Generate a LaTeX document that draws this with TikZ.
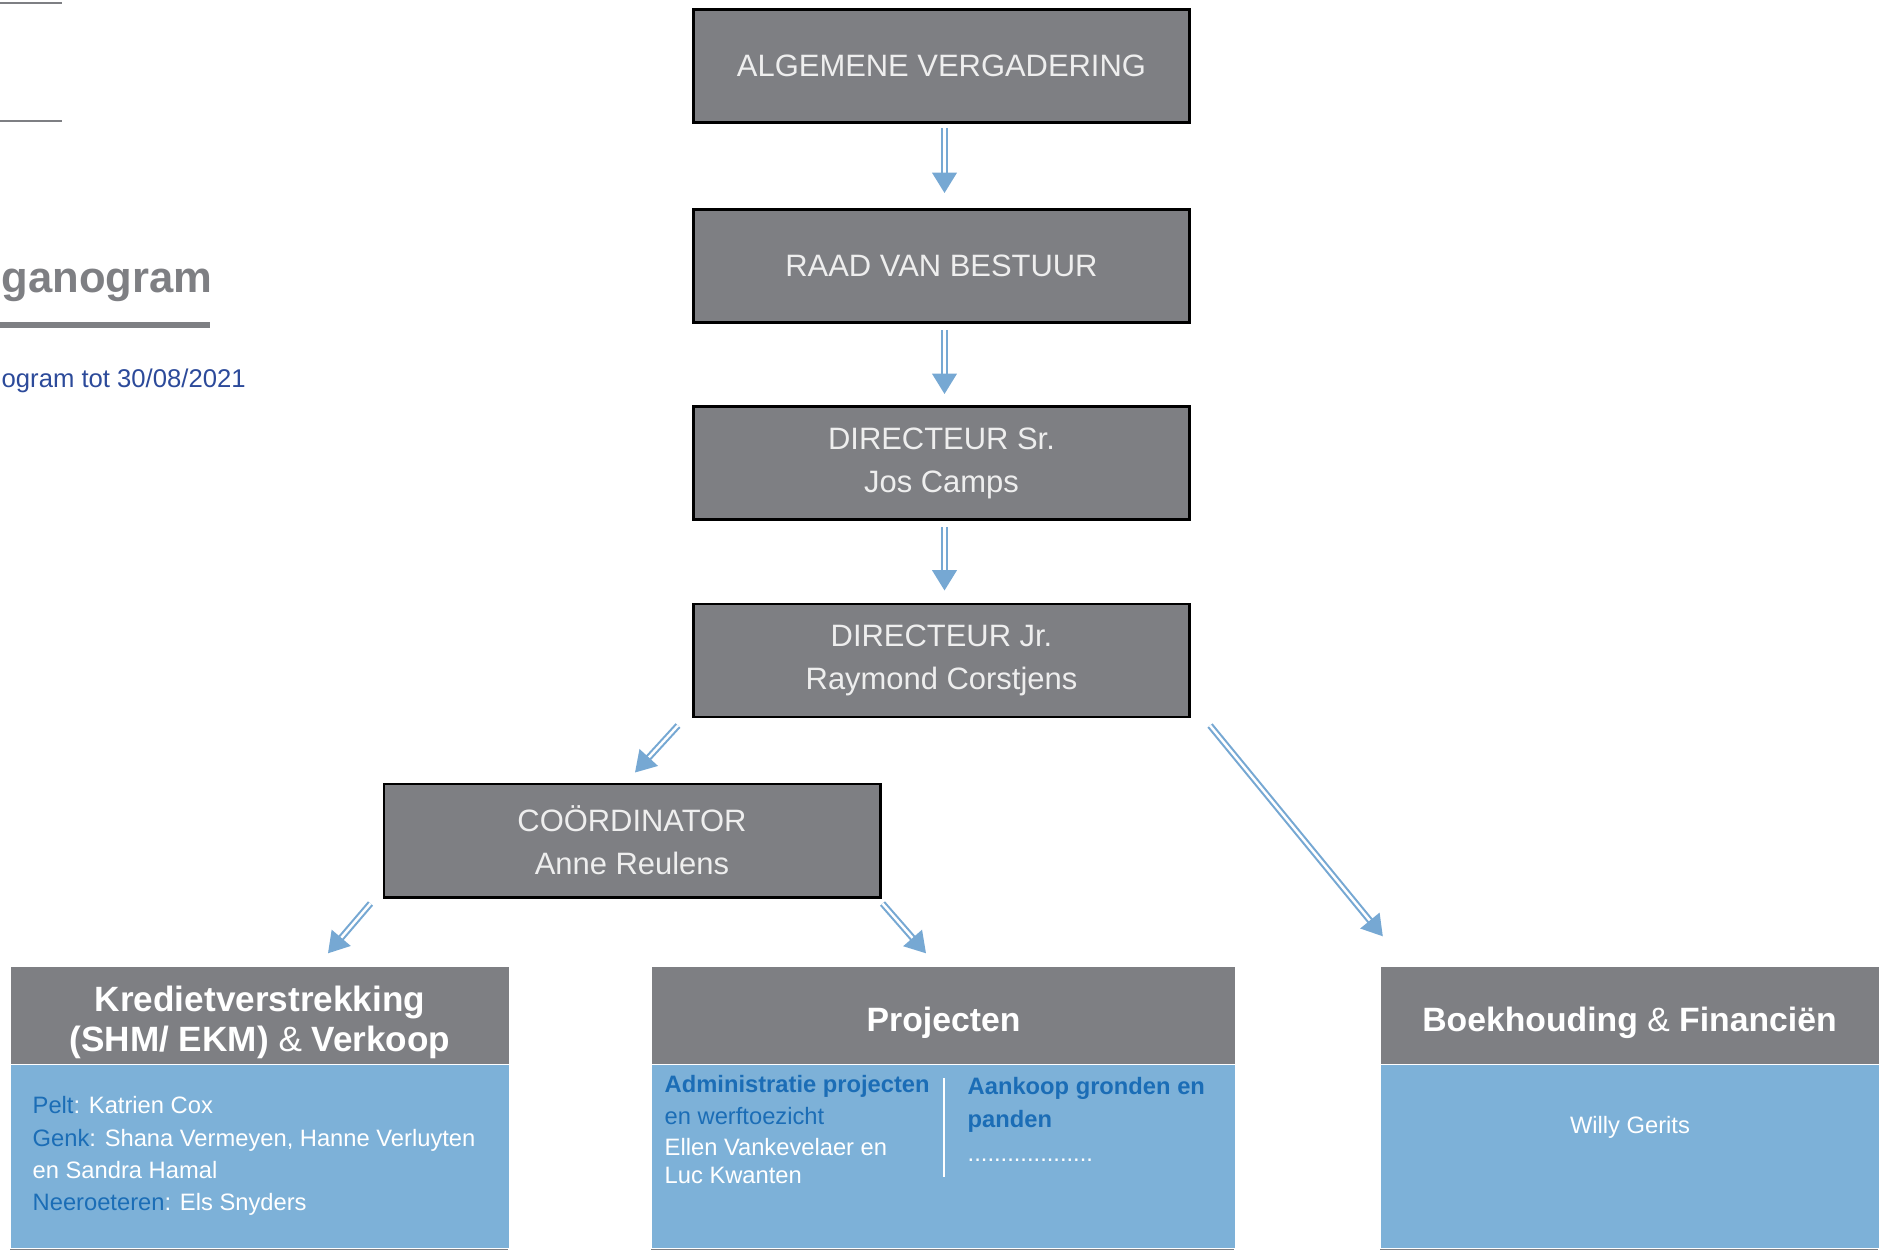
\documentclass[tikz,border=0pt]{standalone}
\usepackage{fontspec}
\setmainfont{Liberation Sans}
\usetikzlibrary{arrows.meta}

\definecolor{boxgray}{HTML}{7E7F83}
\definecolor{boxtext}{HTML}{EEEEEE}
\definecolor{bodyblue}{HTML}{7DB1D8}
\definecolor{labelblue}{HTML}{1B6DB6}
\definecolor{linkblue}{HTML}{76A8D3}
\definecolor{navy}{HTML}{2C4A9A}

\newcommand{\lab}[1]{\textcolor{labelblue}{#1}}

\tikzset{
  boss/.style={rectangle, draw=black, line width=0.85pt, fill=boxgray, text=boxtext,
    minimum width=4.96cm, minimum height=1.13cm, inner sep=0pt, align=center,
    font=\fontsize{8.8}{12.2}\selectfont},
  dept/.style={rectangle, fill=boxgray, minimum width=4.98cm,
    minimum height=0.97cm, inner sep=0pt},
  depttitle/.style={inner sep=0pt, align=center, text=white,
    font=\fontsize{9.6}{11.6}\selectfont\bfseries},
  deptbody/.style={rectangle, fill=bodyblue, minimum width=4.98cm,
    minimum height=1.83cm, inner sep=0pt},
  members/.style={inner sep=0pt, align=left, text=white,
    font=\fontsize{6.75}{9.2}\selectfont},
  link/.style={draw=linkblue, line width=0.6pt, double=white, double distance=0.7pt,
    -{Triangle[length=5.8pt,width=7pt]}},
}

\begin{document}
\begin{tikzpicture}
	\useasboundingbox (0,0) rectangle (18.79,-12.50);
	% page head
	\draw[boxgray, line width=0.7pt] (0,-0.03) -- (0.62,-0.03);
	\draw[boxgray, line width=0.7pt] (0,-1.21) -- (0.62,-1.21);
	\node[anchor=base west, inner sep=0pt, text=boxgray,
		font=\fontsize{12.4}{15}\selectfont\bfseries] (title) at (0.01,-2.92) {ganogram};
	\draw[boxgray, line width=1.7pt] (0,-3.25) -- (2.10,-3.25);
	\node[anchor=base west, inner sep=0pt, text=navy,
		font=\fontsize{7.3}{9}\selectfont] (subtitle) at (0.01,-3.87) {ogram tot 30/08/2021};

	% management
	\node[boss] (av) at (9.415,-0.66) {ALGEMENE VERGADERING};
	\node[boss] (rvb) at (9.415,-2.66) {RAAD VAN BESTUUR};
	\node[boss] (dirsr) at (9.415,-4.63) {DIRECTEUR Sr.\\Jos Camps};
	\node[boss] (dirjr) at (9.415,-6.605) {DIRECTEUR Jr.\\Raymond Corstjens};
	\node[boss] (coord) at (6.32,-8.405) {COÖRDINATOR\\Anne Reulens};

	% departments
	\node[dept] (kred) at (2.60,-10.155) {};
	\node[depttitle, font=\fontsize{10}{11.6}\selectfont\bfseries] (kredtitle) at ([yshift=-0.07cm]kred.center)
		{Kredietverstrekking\\(SHM/ EKM) {\mdseries\&} Verkoop};
	\node[deptbody, anchor=north] (kredbody) at (kred.south) {};
	\node[dept, minimum width=5.83cm] (proj) at (9.435,-10.155) {};
	\node[depttitle] (projtitle) at ([yshift=-0.07cm]proj.center) {Projecten};
	\node[deptbody, minimum width=5.83cm, anchor=north] (projbody) at (proj.south) {};
	\node[dept] (boek) at (16.295,-10.155) {};
	\node[depttitle] (boektitle) at ([yshift=-0.07cm]boek.center) {Boekhouding {\mdseries\&} Financiën};
	\node[deptbody, anchor=north] (boekbody) at (boek.south) {};
	\fill[boxgray] (kredbody.south west) rectangle ++(4.98,-0.03);
	\fill[boxgray] (projbody.south west) rectangle ++(5.83,-0.03);
	\fill[boxgray] (boekbody.south west) rectangle ++(4.98,-0.03);

	\node[members, anchor=north west] (kredlist) at (0.32,-10.96)
		{\lab{Pelt}: Katrien Cox\\\lab{Genk}: Shana Vermeyen, Hanne Verluyten\\en Sandra Hamal\\\lab{Neeroeteren}: Els Snyders};
	\node[members, anchor=north west, font=\fontsize{6.75}{8.9}\selectfont] (projadmin) at (6.64,-10.75)
		{\lab{\bfseries Administratie projecten}\\\lab{en werftoezicht}\\Ellen Vankevelaer en\\[-0.9pt]Luc Kwanten};
	\node[members, anchor=north west] (projbuy) at (9.67,-10.77)
		{\lab{\bfseries Aankoop gronden en}\\\lab{\bfseries panden}\\[0.6pt]...................};
	\draw[white, line width=0.7pt] (9.44,-10.78) -- (9.44,-11.77);
	\node[members, anchor=base] (boeklist) at (16.30,-11.33) {Willy Gerits};

	% arrows
	\draw[link, shorten <=0.04cm, shorten >=0.15cm] ([xshift=0.03cm]av.south) -- ([xshift=0.03cm]rvb.north);
	\draw[link, shorten <=0.06cm, shorten >=0.11cm] ([xshift=0.03cm]rvb.south) -- ([xshift=0.03cm]dirsr.north);
	\draw[link, shorten <=0.06cm, shorten >=0.12cm] ([xshift=0.03cm]dirsr.south) -- ([xshift=0.03cm]dirjr.north);
	\draw[link] ([shift={(-0.14,-0.07)}]dirjr.south west) -- ([shift={(0.03,0.10)}]coord.north);
	\draw[link] ([shift={(-0.12,-0.05)}]coord.south west) -- ([shift={(0.68,0.13)}]kred.north);
	\draw[link] ([shift={(0.01,-0.05)}]coord.south east) -- ([shift={(-0.175,0.13)}]proj.north);
	\draw[link] ([shift={(0.19,-0.07)}]dirjr.south east) -- ([shift={(0.03,0.30)}]boek.north west);
\end{tikzpicture}
\end{document}
